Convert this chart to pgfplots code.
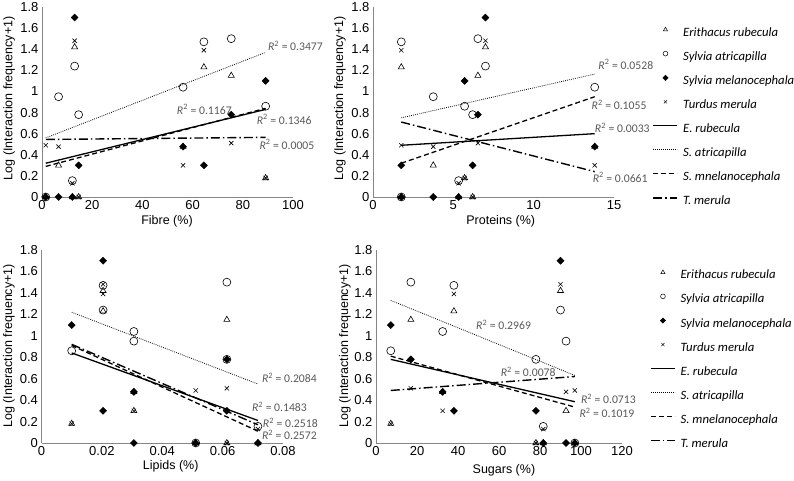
\documentclass[border=0pt]{standalone}
\usepackage{pgfplots}
\usepackage{pgfplotstable}
\pgfplotsset{compat=1.18}
\usepackage{fontspec}
\setmainfont{Liberation Sans}
\newfontfamily\carlito{Carlito}
\definecolor{axgray}{RGB}{134,134,134}
\definecolor{rgray}{RGB}{89,89,89}

\pgfplotstableread{
fibre protein lipid sugar er sa sm tm
1.5 1.76 0.0511 97 0 0 0 0.49
6.6 3.75 0.0306 92.7 0.30 0.95 0 0.477
12.1 5.33 0.0717 81.6 0 0.155 0 0.13
13.0 7.0 0.0204 90 1.42 1.24 1.70 1.48
14.6 6.2 0.0614 78 0 0.78 0.30 0
56.2 13.8 0.0306 32.5 0.477 1.04 0.477 0.30
64.5 1.76 0.0204 38 1.23 1.47 0.30 1.39
75.4 6.53 0.0614 17 1.15 1.50 0.78 0.51
89.1 5.7 0.01 7.2 0.18 0.86 1.10 0.18
}\food

\pgfplotsset{
  mER/.style={only marks, mark=triangle, mark size=3.5pt, mark options={draw=black, line width=0.6pt}},
  mSA/.style={only marks, mark=o, mark size=4pt, mark options={draw=black, line width=0.6pt}},
  mSM/.style={only marks, mark=square*, mark size=2.5pt, mark options={draw=black, fill=black, rotate=45}},
  mTM/.style={only marks, mark=x, mark size=3pt, mark options={draw=black, line width=0.6pt}},
  lER/.style={black, line width=1.3pt, no marks},
  lSA/.style={black, line width=0.8pt, dash pattern=on 0.8pt off 1.2pt, no marks},
  lSM/.style={black, line width=1.3pt, dash pattern=on 5pt off 3pt, no marks},
  lTM/.style={black, line width=1.4pt, dash pattern=on 9pt off 3pt on 1.5pt off 3pt, no marks},
  myaxis/.style={scale only axis, anchor=south west,
    axis x line*=bottom, axis y line*=left,
    axis line style={draw=axgray, line width=0.9pt, -},
    major tick length=0pt,
    ymin=0, ymax=1.8, ytick={0,0.2,0.4,0.6,0.8,1,1.2,1.4,1.6,1.8},
    tick label style={font=\fontsize{13}{15}\selectfont},
    /pgf/number format/assume math mode=true,
    label style={font=\fontsize{12.5}{14}\selectfont},
    ylabel={Log (Interaction frequency+1)},
    clip=false, scaled ticks=false},
  leg/.style={legend style={at={(axis description cs:#1)}, anchor=north west, draw=none, fill=none,
    inner sep=0pt, row sep=12pt, column sep=5pt,
    font=\carlito\itshape\fontsize{12.7}{14}\selectfont,
    nodes={inner sep=0pt, text height=9pt, text depth=3pt}},
    legend cell align=left}
}
\tikzset{rlab/.style={anchor=west, text=rgray, inner sep=0pt, font=\carlito\fontsize{11.7}{13}\selectfont}}
\newcommand{\Rsq}[1]{\textit{R}\textsuperscript{2} = #1}
\newcommand{\legimgs}{%
  \addlegendimage{legend image code/.code={\draw[only marks, mark=triangle, mark size=2.4pt, mark options={draw=black, line width=0.5pt}] plot coordinates {(12pt,3.5pt)};}}
  \addlegendentry{Erithacus rubecula}
  \addlegendimage{legend image code/.code={\draw[only marks, mark=o, mark size=2.4pt, mark options={draw=black, line width=0.5pt}] plot coordinates {(12pt,3.5pt)};}}
  \addlegendentry{Sylvia atricapilla}
  \addlegendimage{legend image code/.code={\draw[only marks, mark=square*, mark size=1.9pt, mark options={draw=black, fill=black, rotate=45}] plot coordinates {(12pt,3.5pt)};}}
  \addlegendentry{Sylvia melanocephala}
  \addlegendimage{legend image code/.code={\draw[only marks, mark=x, mark size=2.2pt, mark options={draw=black, line width=0.5pt}] plot coordinates {(12pt,3.5pt)};}}
  \addlegendentry{Turdus merula}
  \addlegendimage{legend image code/.code={\draw[black, line width=1.3pt] (0pt,3.5pt) -- (24pt,3.5pt);}}
  \addlegendentry{E. rubecula}
  \addlegendimage{legend image code/.code={\draw[black, line width=0.8pt, dash pattern=on 0.8pt off 1.2pt] (0pt,3.5pt) -- (24pt,3.5pt);}}
  \addlegendentry{S. atricapilla}
  \addlegendimage{legend image code/.code={\draw[black, line width=1.3pt, dash pattern=on 5pt off 3pt] (0pt,3.5pt) -- (24pt,3.5pt);}}
  \addlegendentry{S. mnelanocephala}
  \addlegendimage{legend image code/.code={\draw[black, line width=1.4pt, dash pattern=on 9pt off 3pt on 1.5pt off 3pt] (0pt,3.5pt) -- (24pt,3.5pt);}}
  \addlegendentry{T. merula}
}

\begin{document}
\begin{tikzpicture}
\useasboundingbox (0,0) rectangle (794pt,481pt);

% Fibre
\begin{axis}[myaxis, at={(42pt,284pt)}, width=251pt, height=190pt,
  xmin=0, xmax=100, xtick={0,20,40,60,80,100},
  xlabel={Fibre (\%)},
  xlabel style={at={(axis description cs:0.498,-0.128)}, anchor=center},
  ylabel style={at={(axis description cs:-0.131,0.52)}, anchor=center}]
\addplot[mER] table[x=fibre,y=er]{\food};
\addplot[mSA] table[x=fibre,y=sa]{\food};
\addplot[mSM] table[x=fibre,y=sm]{\food};
\addplot[mTM] table[x=fibre,y=tm]{\food};
\addplot[lER] coordinates {(1.5,0.32) (89.1,0.83)};
\addplot[lSA] coordinates {(1.5,0.56) (89.1,1.37)};
\addplot[lSM] coordinates {(1.5,0.29) (89.1,0.84)};
\addplot[lTM] coordinates {(1.5,0.545) (89.1,0.565)};
\node[rlab] at (axis cs:90.0,1.43) {\Rsq{0.3477}};
\node[rlab] at (axis cs:53.7,0.83) {\Rsq{0.1167}};
\node[rlab] at (axis cs:85.5,0.735) {\Rsq{0.1346}};
\node[rlab] at (axis cs:86.6,0.50) {\Rsq{0.0005}};
\end{axis}

% Proteins
\begin{axis}[myaxis, at={(373pt,284pt)}, width=241pt, height=190pt,
  xmin=0, xmax=15, xtick={0,5,10,15},
  xlabel={Proteins (\%)},
  xlabel style={at={(axis description cs:0.53,-0.128)}, anchor=center},
  ylabel style={at={(axis description cs:-0.137,0.52)}, anchor=center},
  leg={1.16,0.895}]
\addplot[mER, forget plot] table[x=protein,y=er]{\food};
\addplot[mSA, forget plot] table[x=protein,y=sa]{\food};
\addplot[mSM, forget plot] table[x=protein,y=sm]{\food};
\addplot[mTM, forget plot] table[x=protein,y=tm]{\food};
\addplot[lER, forget plot] coordinates {(1.76,0.49) (13.8,0.60)};
\addplot[lSA, forget plot] coordinates {(1.76,0.75) (13.8,1.165)};
\addplot[lSM, forget plot] coordinates {(1.76,0.32) (13.8,0.95)};
\addplot[lTM, forget plot] coordinates {(1.76,0.71) (13.8,0.24)};
\legimgs
\node[rlab] at (axis cs:14.02,1.257) {\Rsq{0.0528}};
\node[rlab] at (axis cs:13.6,0.871) {\Rsq{0.1055}};
\node[rlab] at (axis cs:13.8,0.656) {\Rsq{0.0033}};
\node[rlab] at (axis cs:13.67,0.187) {\Rsq{0.0661}};
\end{axis}

% Lipids
\begin{axis}[myaxis, at={(41.5pt,38pt)}, width=241.5pt, height=193pt,
  xmin=0, xmax=0.08, xtick={0,0.02,0.04,0.06,0.08},
  xticklabel style={/pgf/number format/fixed, /pgf/number format/precision=2},
  xlabel={Lipids (\%)},
  xlabel style={at={(axis description cs:0.535,-0.12)}, anchor=center},
  ylabel style={at={(axis description cs:-0.135,0.503)}, anchor=center}]
\addplot[mER] table[x=lipid,y=er]{\food};
\addplot[mSA] table[x=lipid,y=sa]{\food};
\addplot[mSM] table[x=lipid,y=sm]{\food};
\addplot[mTM] table[x=lipid,y=tm]{\food};
\addplot[lER] coordinates {(0.01,0.84) (0.0717,0.21)};
\addplot[lSA] coordinates {(0.01,1.22) (0.0717,0.55)};
\addplot[lSM] coordinates {(0.01,0.91) (0.0717,0.11)};
\addplot[lTM] coordinates {(0.01,0.92) (0.0717,0.17)};
\node[rlab] at (axis cs:0.0730,0.61) {\Rsq{0.2084}};
\node[rlab] at (axis cs:0.0697,0.335) {\Rsq{0.1483}};
\node[rlab] at (axis cs:0.0733,0.19) {\Rsq{0.2518}};
\node[rlab] at (axis cs:0.0730,0.075) {\Rsq{0.2572}};
\end{axis}

% Sugars
\begin{axis}[myaxis, at={(376pt,38pt)}, width=246pt, height=193pt,
  xmin=0, xmax=120, xtick={0,20,40,60,80,100,120},
  xlabel={Sugars (\%)},
  xlabel style={at={(axis description cs:0.52,-0.14)}, anchor=center},
  ylabel style={at={(axis description cs:-0.126,0.503)}, anchor=center},
  leg={1.114,0.898}]
\addplot[mER, forget plot] table[x=sugar,y=er]{\food};
\addplot[mSA, forget plot] table[x=sugar,y=sa]{\food};
\addplot[mSM, forget plot] table[x=sugar,y=sm]{\food};
\addplot[mTM, forget plot] table[x=sugar,y=tm]{\food};
\addplot[lER, forget plot] coordinates {(7.2,0.78) (97,0.385)};
\addplot[lSA, forget plot] coordinates {(7.2,1.33) (97,0.63)};
\addplot[lSM, forget plot] coordinates {(7.2,0.81) (97,0.335)};
\addplot[lTM, forget plot] coordinates {(7.2,0.49) (97,0.62)};
\legimgs
\node[rlab] at (axis cs:48.8,1.10) {\Rsq{0.2969}};
\node[rlab] at (axis cs:60.8,0.665) {\Rsq{0.0078}};
\node[rlab] at (axis cs:99.9,0.41) {\Rsq{0.0713}};
\node[rlab] at (axis cs:99.2,0.28) {\Rsq{0.1019}};
\end{axis}
\end{tikzpicture}
\end{document}
